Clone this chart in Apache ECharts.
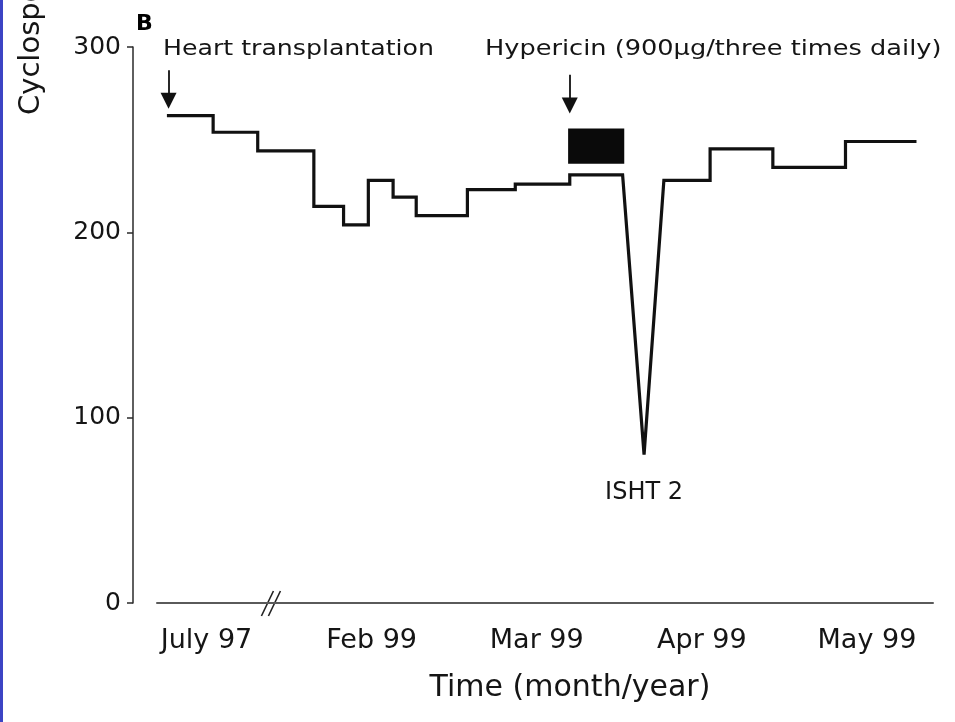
<!DOCTYPE html>
<html>
<head>
<meta charset="utf-8">
<script src="https://cdn.jsdelivr.net/npm/echarts@6/dist/echarts.min.js"></script>
<style>
  html, body { margin: 0; padding: 0; background: #ffffff; }
  #chart { width: 955px; height: 722px; }
</style>
</head>
<body>
<div id="chart"></div>
<script>
// Time axis: one unit per labelled month, July 97 at 0
const monthLabels = ['July 97', 'Feb 99', 'Mar 99', 'Apr 99', 'May 99'];
const monthPositions = [0, 1, 2, 3, 4];
const yTickValues = [0, 100, 200, 300];

// Cyclosporin trough levels as step segments (start of each level)
const preDipStarts = [-0.24, 0.04, 0.31, 0.65, 0.83, 0.98, 1.13, 1.27, 1.58, 1.87, 2.20];
const preDipLevels = [263, 254, 244, 214, 204, 228, 219, 209, 223, 226, 231];
const preDipEnd = 2.52;

// Sharp fall during hypericin intake
const dipTime = 2.65;
const dipLevel = 80;

const postDipStarts = [2.77, 3.05, 3.43, 3.87];
const postDipLevels = [228, 245, 235, 249];
const postDipEnd = 4.30;

// Event arrows: time, top of shaft, arrow end
const eventTimes = [-0.23, 2.20];
const eventArrowTop = [287.5, 285];
const eventArrowEnd = [271, 268.5];

// Hypericin treatment block
const hypericinSpan = [2.19, 2.53];
const hypericinBand = [237, 256];

// Position of the axis break marks
const axisBreakAt = 0.39;

function stepVertices(starts, levels, end) {
  const pts = [];
  for (let i = 0; i < starts.length; i++) {
    const x0 = starts[i];
    const x1 = i + 1 < starts.length ? starts[i + 1] : end;
    pts.push([x0, levels[i]], [x1, levels[i]]);
  }
  return pts;
}

const lineData = []
  .concat(stepVertices(preDipStarts, preDipLevels, preDipEnd))
  .concat([[dipTime, dipLevel]])
  .concat(stepVertices(postDipStarts, postDipLevels, postDipEnd));

const FONT = '"DejaVu Sans", sans-serif';
const INK = '#151515';

const chart = echarts.init(document.getElementById('chart'), null, { renderer: 'canvas' });

const option = {
  backgroundColor: '#ffffff',
  animation: false,
  grid: { left: 157, right: 22, top: 47, bottom: 119, containLabel: false },
  xAxis: {
    type: 'value',
    min: -0.3,
    max: 4.4,
    splitLine: { show: false },
    axisTick: { show: false },
    axisLine: { show: true, onZero: false, lineStyle: { color: '#5a5a5a', width: 2 } },
    axisLabel: {
      customValues: monthPositions,
      formatter: v => monthLabels[monthPositions.indexOf(Math.round(v))] || '',
      color: INK,
      fontFamily: FONT,
      fontSize: 27,
      margin: 24
    },
    name: 'Time (month/year)',
    nameLocation: 'middle',
    nameGap: 70,
    nameTextStyle: { color: INK, fontFamily: FONT, fontSize: 30, padding: [0, 0, 0, 50] }
  },
  yAxis: {
    type: 'value',
    min: 0,
    max: 300,
    interval: 100,
    offset: 24,
    splitLine: { show: false },
    axisLine: { show: true, onZero: false, lineStyle: { color: '#2a2a2a', width: 1.5 } },
    axisTick: { show: true, inside: false, length: 6, lineStyle: { color: '#2a2a2a', width: 1.5 } },
    axisLabel: {
      customValues: yTickValues,
      color: INK,
      fontFamily: FONT,
      fontSize: 25,
      margin: 12
    }
  },
  series: [
    {
      type: 'line',
      data: lineData,
      showSymbol: false,
      clip: false,
      lineStyle: { color: '#111111', width: 3.2, join: 'miter', cap: 'butt' },
      markArea: {
        silent: true,
        itemStyle: { color: '#0a0a0a' },
        data: [[
          { coord: [hypericinSpan[0], hypericinBand[1]] },
          { coord: [hypericinSpan[1], hypericinBand[0]] }
        ]]
      },
      markLine: {
        silent: true,
        symbol: ['none', 'triangle'],
        symbolSize: [16, 16],
        label: { show: false },
        lineStyle: { color: '#111111', width: 1.8, type: 'solid' },
        data: eventTimes.map((t, i) => [
          { coord: [t, eventArrowTop[i]] },
          { coord: [t, eventArrowEnd[i]] }
        ])
      },
      markPoint: {
        silent: true,
        symbol: 'circle',
        symbolSize: 0,
        data: [{ coord: [dipTime, dipLevel] }],
        label: {
          show: true,
          position: 'bottom',
          distance: 26,
          formatter: 'ISHT 2',
          color: INK,
          fontFamily: FONT,
          fontSize: 24
        }
      }
    }
  ]
};

chart.setOption(option);

// Annotations and axis break drawn on top of the plot
const b0 = chart.convertToPixel({ gridIndex: 0 }, [axisBreakAt, 0]);
const slashPairs = [-3.5, 3.5].map(dx => ({
  type: 'line',
  shape: { x1: b0[0] + dx - 6, y1: b0[1] + 13, x2: b0[0] + dx + 6, y2: b0[1] - 12 },
  style: { stroke: '#222222', lineWidth: 1.6 }
}));

chart.setOption({
  graphic: [
    { type: 'rect', shape: { x: 0, y: 0, width: 3, height: 722 }, style: { fill: '#3c44c4' } },
    {
      type: 'text', x: 31, y: 115, rotation: Math.PI / 2,
      style: { text: 'Cyclosporin A (ng/ml)', font: '29px ' + FONT, fill: INK, align: 'left', verticalAlign: 'middle' }
    },
    {
      type: 'text', x: 136, y: 24,
      style: { text: 'B', font: 'bold 22px ' + FONT, fill: '#000000', align: 'left', verticalAlign: 'middle' }
    },
    {
      type: 'text', x: 163, y: 50, scaleX: 1.2,
      style: { text: 'Heart transplantation', font: '21px ' + FONT, fill: INK, align: 'left', verticalAlign: 'middle' }
    },
    {
      type: 'text', x: 485, y: 50, scaleX: 1.22,
      style: { text: 'Hypericin (900µg/three times daily)', font: '21px ' + FONT, fill: INK, align: 'left', verticalAlign: 'middle' }
    }
  ].concat(slashPairs)
});
</script>
</body>
</html>
